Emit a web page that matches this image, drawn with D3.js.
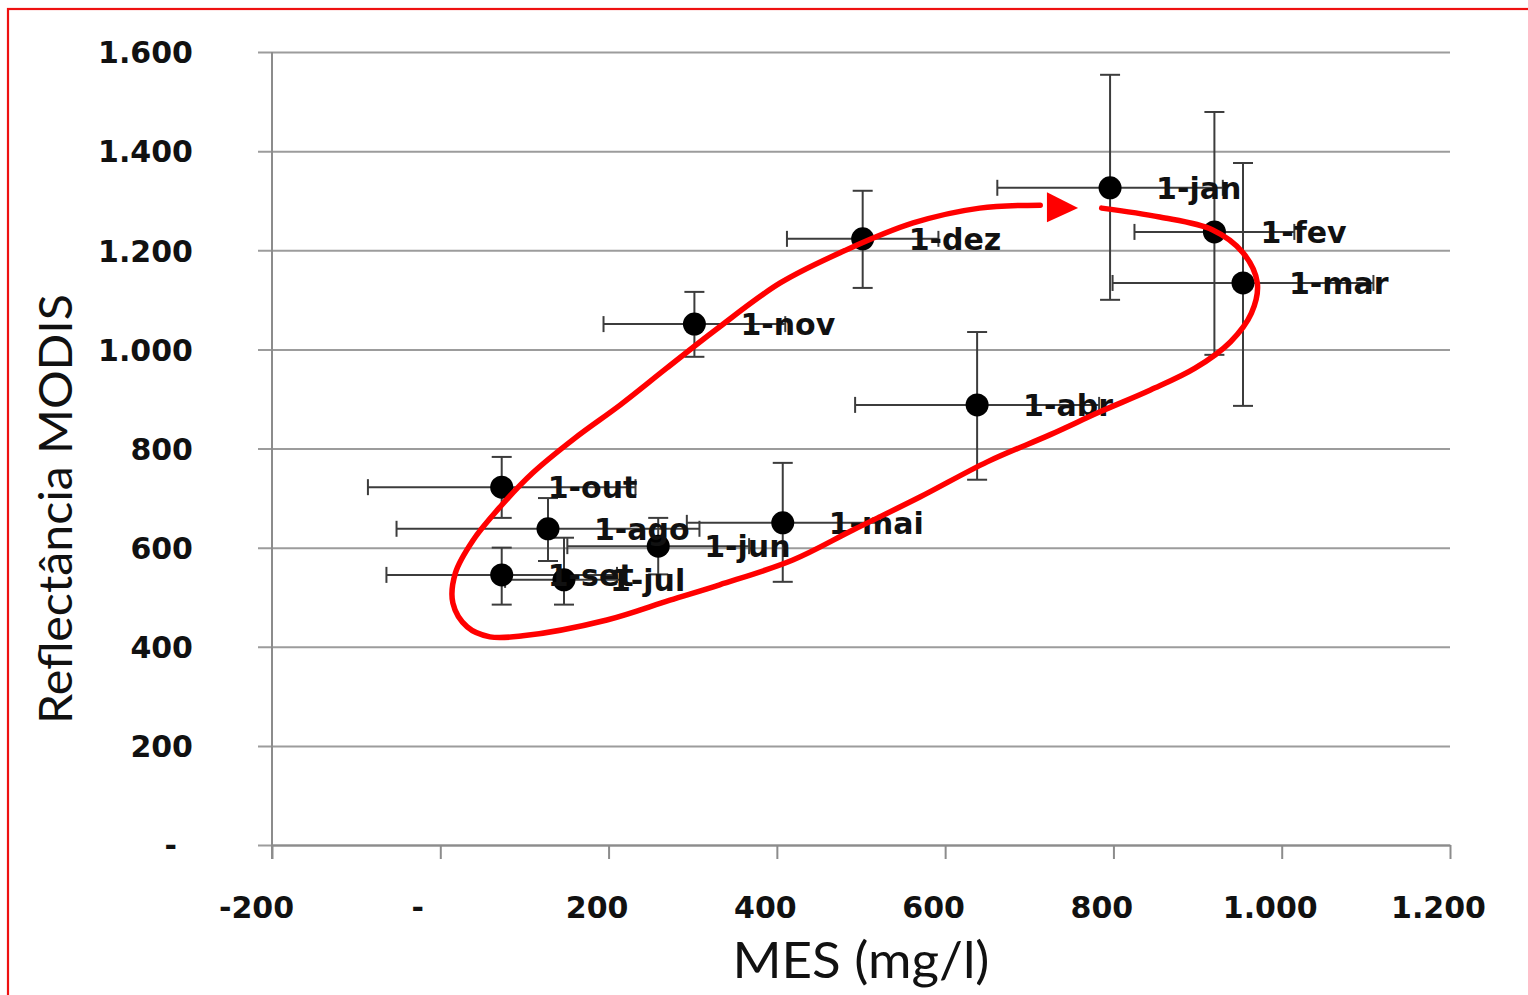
<!DOCTYPE html>
<html>
<head>
<meta charset="utf-8">
<script src="https://cdn.jsdelivr.net/npm/d3@7"></script>
<style>
  html, body { margin: 0; padding: 0; background: #fff; }
  svg { display: block; }
</style>
</head>
<body>
<svg id="chart" width="1528" height="995"></svg>
<script>
// Monthly means of suspended matter (MES) vs MODIS reflectance, with error bars
const months = ["1-jan","1-fev","1-mar","1-abr","1-mai","1-jun","1-jul","1-ago","1-set","1-out","1-nov","1-dez"];
const mes = [796, 920, 954, 638, 407, 259, 147, 128, 73, 73, 302, 502];
const reflectance = [1326, 1237, 1134, 888, 650, 603, 535, 638, 545, 722, 1051, 1223];
const mesErr = [134, 95, 155, 145, 114, 108, 70, 180, 137, 159, 108, 90];
const reflErrUp = [228, 242, 242, 147, 121, 57, 85, 62, 55, 61, 65, 97];
const reflErrDown = [226, 248, 248, 151, 119, 57, 50, 65, 60, 62, 66, 99];

const xTicks = [-200, 0, 200, 400, 600, 800, 1000, 1200];
const xTickLabels = ["-200", "-", "200", "400", "600", "800", "1.000", "1.200"];
const yTicks = [0, 200, 400, 600, 800, 1000, 1200, 1400, 1600];
const yTickLabels = ["-", "200", "400", "600", "800", "1.000", "1.200", "1.400", "1.600"];

// Hand-drawn seasonal loop (data units), drawn clockwise, ending in an arrow
const loopMes = [786, 855, 918, 954, 971, 964, 939, 897, 844, 784, 725, 650, 570, 491, 419, 332, 273, 198, 98, 59, 32, 15, 18, 39, 71, 110, 160, 214, 269, 327, 404, 483, 562, 641, 713];
const loopRefl = [1285, 1267, 1241, 1195, 1134, 1073, 1015, 962, 918, 874, 828, 773, 702, 636, 575, 525, 494, 454, 422, 420, 440, 488, 549, 615, 682, 751, 821, 888, 962, 1039, 1134, 1201, 1255, 1285, 1291];
const arrowTip = [758, 1285];
const arrowBase = [721, 1287];

const svg = d3.select("#chart");
const plotLeft = 272, plotRight = 1450, plotTop = 52, plotBottom = 845;

const x = d3.scaleLinear().domain([-200, 1200]).range([plotLeft, plotRight]);
const y = d3.scaleLinear().domain([0, 1600]).range([plotBottom, plotTop]);

// outer red frame (runs off the right and bottom edges)
svg.append("rect")
  .attr("x", 8).attr("y", 9).attr("width", 1540).attr("height", 1010)
  .attr("fill", "none").attr("stroke", "#ee1111").attr("stroke-width", 2.2);

const tickFont = "'DejaVu Sans', Verdana, sans-serif";

// y axis with gridlines
const yAxis = d3.axisLeft(y)
  .tickValues(yTicks)
  .tickSizeInner(-(plotRight - plotLeft + 14))
  .tickSizeOuter(0)
  .tickPadding(65)
  .tickFormat((d, i) => yTickLabels[i]);

const gy = svg.append("g").attr("transform", `translate(${plotLeft - 14},0)`).call(yAxis);
gy.select(".domain").remove();
gy.selectAll(".tick line").attr("stroke", "#9c9c9c").attr("stroke-width", 2);
gy.selectAll(".tick text")
  .attr("font-family", tickFont).attr("font-weight", "bold").attr("font-size", 30)
  .attr("fill", "#111")
  .attr("dy", "0.36em")
  .attr("dx", (d) => d === 0 ? -16 : 0);

// x axis
const xAxis = d3.axisBottom(x)
  .tickValues(xTicks)
  .tickSizeInner(14)
  .tickSizeOuter(0)
  .tickFormat((d, i) => xTickLabels[i]);

const gx = svg.append("g").attr("transform", `translate(0,${plotBottom})`).call(xAxis);
gx.select(".domain").attr("stroke", "#8c8c8c").attr("stroke-width", 2);
gx.selectAll(".tick line").attr("stroke", "#8c8c8c").attr("stroke-width", 2);
gx.selectAll(".tick text")
  .attr("font-family", tickFont).attr("font-weight", "bold").attr("font-size", 30)
  .attr("fill", "#111")
  .attr("dy", null).attr("y", 73)
  .attr("dx", (d) => d === 0 ? -23 : (d < 0 ? -16 : -12));

// vertical axis line
svg.append("line")
  .attr("x1", x(-200)).attr("x2", x(-200)).attr("y1", y(1600)).attr("y2", y(0) + 14)
  .attr("stroke", "#8c8c8c").attr("stroke-width", 2);

// axis titles
svg.append("text")
  .attr("x", (plotLeft + plotRight) / 2).attr("y", 978)
  .attr("text-anchor", "middle")
  .attr("font-family", "Lato, 'Open Sans', sans-serif").attr("font-size", 50)
  .attr("textLength", 257).attr("lengthAdjust", "spacingAndGlyphs")
  .attr("fill", "#111")
  .text("MES (mg/l)");

svg.append("text")
  .attr("transform", "translate(72,509) rotate(-90)")
  .attr("text-anchor", "middle")
  .attr("font-family", "Lato, 'Open Sans', sans-serif").attr("font-size", 46)
  .attr("textLength", 430).attr("lengthAdjust", "spacingAndGlyphs")
  .attr("fill", "#111")
  .text("Reflectância MODIS");

const data = months.map((m, i) => ({
  label: m, mes: mes[i], refl: reflectance[i],
  ex: mesErr[i], eu: reflErrUp[i], ed: reflErrDown[i]
}));

// error bars
const eb = svg.append("g").attr("stroke", "#3c3c3c").attr("stroke-width", 2).attr("fill", "none");
const capV = 10, capH = 8;
data.forEach(d => {
  const cx = x(d.mes), cy = y(d.refl);
  const x0 = x(d.mes - d.ex), x1 = x(d.mes + d.ex);
  const y0 = y(d.refl + d.eu), y1 = y(d.refl - d.ed);
  eb.append("line").attr("x1", x0).attr("x2", x1).attr("y1", cy).attr("y2", cy);
  eb.append("line").attr("x1", x0).attr("x2", x0).attr("y1", cy - capH).attr("y2", cy + capH);
  eb.append("line").attr("x1", x1).attr("x2", x1).attr("y1", cy - capH).attr("y2", cy + capH);
  eb.append("line").attr("x1", cx).attr("x2", cx).attr("y1", y0).attr("y2", y1);
  eb.append("line").attr("x1", cx - capV).attr("x2", cx + capV).attr("y1", y0).attr("y2", y0);
  eb.append("line").attr("x1", cx - capV).attr("x2", cx + capV).attr("y1", y1).attr("y2", y1);
});

// markers
svg.append("g").selectAll("circle").data(data).join("circle")
  .attr("cx", d => x(d.mes)).attr("cy", d => y(d.refl))
  .attr("r", 11.5).attr("fill", "#000");

// point labels
svg.append("g").selectAll("text").data(data).join("text")
  .attr("x", d => x(d.mes) + 46).attr("y", d => y(d.refl) + 11)
  .attr("font-family", tickFont).attr("font-weight", "bold").attr("font-size", 30)
  .attr("fill", "#111")
  .text(d => d.label);

// seasonal loop annotation
const loopPts = loopMes.map((v, i) => [x(v), y(loopRefl[i])]);
svg.append("path")
  .attr("d", d3.line().curve(d3.curveCatmullRom.alpha(0.5))(loopPts))
  .attr("fill", "none").attr("stroke", "#ff0000").attr("stroke-width", 5.5)
  .attr("stroke-linecap", "round").attr("stroke-linejoin", "round");

const tip = [x(arrowTip[0]), y(arrowTip[1])];
const base = [x(arrowBase[0]), y(arrowBase[1])];
svg.append("path")
  .attr("d", `M${tip[0]},${tip[1]} L${base[0]},${base[1] - 15} L${base[0]},${base[1] + 15} Z`)
  .attr("fill", "#ff0000");
</script>
</body>
</html>
